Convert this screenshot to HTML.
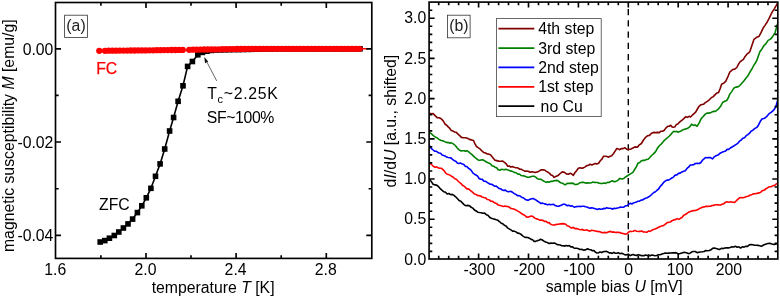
<!DOCTYPE html>
<html><head><meta charset="utf-8"><title>figure</title>
<style>html,body{margin:0;padding:0;background:#fff;}body{width:780px;height:297px;overflow:hidden;position:relative;font-family:"Liberation Sans",sans-serif;}</style>
</head><body>
<svg width="780" height="297" viewBox="0 0 780 297" style="position:absolute;left:0;top:0;will-change:transform" font-family="Liberation Sans, sans-serif" font-size="15.8px" fill="#000">
<rect width="780" height="297" fill="#fff"/>
<path d="M100.2,242.0 L104.8,240.6 L109.4,238.2 L114.3,235.5 L118.8,232.0 L123.4,228.0 L128.0,223.9 L132.6,219.1 L137.4,212.6 L141.8,205.8 L146.3,197.8 L150.9,188.3 L155.5,176.3 L160.1,163.9 L164.7,149.0 L169.6,131.0 L173.6,117.5 L178.1,101.3 L183.0,85.8 L187.6,66.4 L192.4,61.5 L197.8,54.8 L202.4,52.4 L207.0,51.2 L211.5,50.4 L216.0,50.0 L220.5,49.9 L225.0,49.8 L229.5,49.7 L234.0,49.6 L238.5,49.5 L243.0,49.5 L247.5,49.4 L252.0,49.3 L256.5,49.2 L261.0,49.1 L265.5,49.0 L270.0,48.9 L274.5,48.8 L279.0,48.8 L283.5,48.8 L288.0,48.8 L292.5,48.8 L297.0,48.8 L301.5,48.8 L306.0,48.8 L310.5,48.8 L315.0,48.8 L319.5,48.8 L324.0,48.8 L328.5,48.8 L333.0,48.8 L337.5,48.8 L342.0,48.8 L346.5,48.8 L351.0,48.8 L355.5,48.8 L360.0,48.8" fill="none" stroke="#000" stroke-width="1.6" stroke-linejoin="round"/>
<rect x="97.4" y="239.2" width="5.6" height="5.6" fill="#000"/>
<rect x="102.0" y="237.8" width="5.6" height="5.6" fill="#000"/>
<rect x="106.6" y="235.4" width="5.6" height="5.6" fill="#000"/>
<rect x="111.5" y="232.7" width="5.6" height="5.6" fill="#000"/>
<rect x="116.0" y="229.2" width="5.6" height="5.6" fill="#000"/>
<rect x="120.6" y="225.2" width="5.6" height="5.6" fill="#000"/>
<rect x="125.2" y="221.1" width="5.6" height="5.6" fill="#000"/>
<rect x="129.8" y="216.3" width="5.6" height="5.6" fill="#000"/>
<rect x="134.6" y="209.8" width="5.6" height="5.6" fill="#000"/>
<rect x="139.0" y="203.0" width="5.6" height="5.6" fill="#000"/>
<rect x="143.5" y="195.0" width="5.6" height="5.6" fill="#000"/>
<rect x="148.1" y="185.5" width="5.6" height="5.6" fill="#000"/>
<rect x="152.7" y="173.5" width="5.6" height="5.6" fill="#000"/>
<rect x="157.3" y="161.1" width="5.6" height="5.6" fill="#000"/>
<rect x="161.9" y="146.2" width="5.6" height="5.6" fill="#000"/>
<rect x="166.8" y="128.2" width="5.6" height="5.6" fill="#000"/>
<rect x="170.8" y="114.7" width="5.6" height="5.6" fill="#000"/>
<rect x="175.3" y="98.5" width="5.6" height="5.6" fill="#000"/>
<rect x="180.2" y="83.0" width="5.6" height="5.6" fill="#000"/>
<rect x="184.8" y="63.6" width="5.6" height="5.6" fill="#000"/>
<rect x="189.6" y="58.7" width="5.6" height="5.6" fill="#000"/>
<rect x="195.0" y="52.0" width="5.6" height="5.6" fill="#000"/>
<rect x="199.6" y="49.6" width="5.6" height="5.6" fill="#000"/>
<rect x="204.2" y="48.4" width="5.6" height="5.6" fill="#000"/>
<rect x="208.7" y="47.6" width="5.6" height="5.6" fill="#000"/>
<rect x="213.2" y="47.2" width="5.6" height="5.6" fill="#000"/>
<rect x="217.7" y="47.1" width="5.6" height="5.6" fill="#000"/>
<rect x="222.2" y="47.0" width="5.6" height="5.6" fill="#000"/>
<rect x="226.7" y="46.9" width="5.6" height="5.6" fill="#000"/>
<rect x="231.2" y="46.8" width="5.6" height="5.6" fill="#000"/>
<rect x="235.7" y="46.8" width="5.6" height="5.6" fill="#000"/>
<rect x="240.2" y="46.7" width="5.6" height="5.6" fill="#000"/>
<rect x="244.7" y="46.6" width="5.6" height="5.6" fill="#000"/>
<rect x="249.2" y="46.5" width="5.6" height="5.6" fill="#000"/>
<rect x="253.7" y="46.4" width="5.6" height="5.6" fill="#000"/>
<rect x="258.2" y="46.3" width="5.6" height="5.6" fill="#000"/>
<rect x="262.7" y="46.2" width="5.6" height="5.6" fill="#000"/>
<rect x="267.2" y="46.1" width="5.6" height="5.6" fill="#000"/>
<rect x="271.7" y="46.0" width="5.6" height="5.6" fill="#000"/>
<rect x="276.2" y="46.0" width="5.6" height="5.6" fill="#000"/>
<rect x="280.7" y="46.0" width="5.6" height="5.6" fill="#000"/>
<rect x="285.2" y="46.0" width="5.6" height="5.6" fill="#000"/>
<rect x="289.7" y="46.0" width="5.6" height="5.6" fill="#000"/>
<rect x="294.2" y="46.0" width="5.6" height="5.6" fill="#000"/>
<rect x="298.7" y="46.0" width="5.6" height="5.6" fill="#000"/>
<rect x="303.2" y="46.0" width="5.6" height="5.6" fill="#000"/>
<rect x="307.7" y="46.0" width="5.6" height="5.6" fill="#000"/>
<rect x="312.2" y="46.0" width="5.6" height="5.6" fill="#000"/>
<rect x="316.7" y="46.0" width="5.6" height="5.6" fill="#000"/>
<rect x="321.2" y="46.0" width="5.6" height="5.6" fill="#000"/>
<rect x="325.7" y="46.0" width="5.6" height="5.6" fill="#000"/>
<rect x="330.2" y="46.0" width="5.6" height="5.6" fill="#000"/>
<rect x="334.7" y="46.0" width="5.6" height="5.6" fill="#000"/>
<rect x="339.2" y="46.0" width="5.6" height="5.6" fill="#000"/>
<rect x="343.7" y="46.0" width="5.6" height="5.6" fill="#000"/>
<rect x="348.2" y="46.0" width="5.6" height="5.6" fill="#000"/>
<rect x="352.7" y="46.0" width="5.6" height="5.6" fill="#000"/>
<rect x="357.2" y="46.0" width="5.6" height="5.6" fill="#000"/>
<path d="M99.3,50.8 L105.0,50.8 L108.7,50.7 L112.4,50.7 L116.1,50.7 L119.8,50.6 L123.5,50.6 L127.2,50.6 L130.9,50.5 L134.6,50.5 L138.3,50.4 L142.0,50.4 L145.7,50.4 L149.4,50.3 L153.1,50.3 L156.8,50.2 L160.5,50.2 L164.2,50.1 L167.9,50.1 L171.6,50.0 L175.3,50.0 L179.0,49.9 L182.7,49.9 L189.2,49.8 L192.9,49.7 L196.6,49.7 L200.3,49.6 L204.0,49.5 L207.7,49.5 L211.4,49.4 L215.1,49.4 L218.8,49.3 L222.5,49.2 L226.2,49.2 L229.9,49.1 L233.6,49.1 L237.3,49.0 L241.0,48.9 L244.7,48.9 L248.4,48.8 L252.1,48.8 L255.8,48.8 L259.5,48.8 L263.2,48.8 L266.9,48.8 L270.6,48.8 L274.3,48.8 L278.0,48.8 L281.7,48.8 L285.4,48.8 L289.1,48.8 L292.8,48.8 L296.5,48.8 L300.2,48.8 L303.9,48.8 L307.6,48.8 L311.3,48.8 L315.0,48.8 L318.7,48.8 L322.4,48.8 L326.1,48.8 L329.8,48.8 L333.5,48.8 L337.2,48.8 L340.9,48.8 L344.6,48.8 L348.3,48.8 L352.0,48.8 L355.7,48.8 L359.4,48.8 L367.5,48.8" fill="none" stroke="#f00" stroke-width="1.4"/>
<circle cx="99.3" cy="50.8" r="3.15" fill="#f00"/>
<circle cx="105.0" cy="50.8" r="3.15" fill="#f00"/>
<circle cx="108.7" cy="50.7" r="3.15" fill="#f00"/>
<circle cx="112.4" cy="50.7" r="3.15" fill="#f00"/>
<circle cx="116.1" cy="50.7" r="3.15" fill="#f00"/>
<circle cx="119.8" cy="50.6" r="3.15" fill="#f00"/>
<circle cx="123.5" cy="50.6" r="3.15" fill="#f00"/>
<circle cx="127.2" cy="50.6" r="3.15" fill="#f00"/>
<circle cx="130.9" cy="50.5" r="3.15" fill="#f00"/>
<circle cx="134.6" cy="50.5" r="3.15" fill="#f00"/>
<circle cx="138.3" cy="50.4" r="3.15" fill="#f00"/>
<circle cx="142.0" cy="50.4" r="3.15" fill="#f00"/>
<circle cx="145.7" cy="50.4" r="3.15" fill="#f00"/>
<circle cx="149.4" cy="50.3" r="3.15" fill="#f00"/>
<circle cx="153.1" cy="50.3" r="3.15" fill="#f00"/>
<circle cx="156.8" cy="50.2" r="3.15" fill="#f00"/>
<circle cx="160.5" cy="50.2" r="3.15" fill="#f00"/>
<circle cx="164.2" cy="50.1" r="3.15" fill="#f00"/>
<circle cx="167.9" cy="50.1" r="3.15" fill="#f00"/>
<circle cx="171.6" cy="50.0" r="3.15" fill="#f00"/>
<circle cx="175.3" cy="50.0" r="3.15" fill="#f00"/>
<circle cx="179.0" cy="49.9" r="3.15" fill="#f00"/>
<circle cx="182.7" cy="49.9" r="3.15" fill="#f00"/>
<circle cx="189.2" cy="49.8" r="3.15" fill="#f00"/>
<circle cx="192.9" cy="49.7" r="3.15" fill="#f00"/>
<circle cx="196.6" cy="49.7" r="3.15" fill="#f00"/>
<circle cx="200.3" cy="49.6" r="3.15" fill="#f00"/>
<circle cx="204.0" cy="49.5" r="3.15" fill="#f00"/>
<circle cx="207.7" cy="49.5" r="3.15" fill="#f00"/>
<circle cx="211.4" cy="49.4" r="3.15" fill="#f00"/>
<circle cx="215.1" cy="49.4" r="3.15" fill="#f00"/>
<circle cx="218.8" cy="49.3" r="3.15" fill="#f00"/>
<circle cx="222.5" cy="49.2" r="3.15" fill="#f00"/>
<circle cx="226.2" cy="49.2" r="3.15" fill="#f00"/>
<circle cx="229.9" cy="49.1" r="3.15" fill="#f00"/>
<circle cx="233.6" cy="49.1" r="3.15" fill="#f00"/>
<circle cx="237.3" cy="49.0" r="3.15" fill="#f00"/>
<circle cx="241.0" cy="48.9" r="3.15" fill="#f00"/>
<circle cx="244.7" cy="48.9" r="3.15" fill="#f00"/>
<circle cx="248.4" cy="48.8" r="3.15" fill="#f00"/>
<circle cx="252.1" cy="48.8" r="3.15" fill="#f00"/>
<circle cx="255.8" cy="48.8" r="3.15" fill="#f00"/>
<circle cx="259.5" cy="48.8" r="3.15" fill="#f00"/>
<circle cx="263.2" cy="48.8" r="3.15" fill="#f00"/>
<circle cx="266.9" cy="48.8" r="3.15" fill="#f00"/>
<circle cx="270.6" cy="48.8" r="3.15" fill="#f00"/>
<circle cx="274.3" cy="48.8" r="3.15" fill="#f00"/>
<circle cx="278.0" cy="48.8" r="3.15" fill="#f00"/>
<circle cx="281.7" cy="48.8" r="3.15" fill="#f00"/>
<circle cx="285.4" cy="48.8" r="3.15" fill="#f00"/>
<circle cx="289.1" cy="48.8" r="3.15" fill="#f00"/>
<circle cx="292.8" cy="48.8" r="3.15" fill="#f00"/>
<circle cx="296.5" cy="48.8" r="3.15" fill="#f00"/>
<circle cx="300.2" cy="48.8" r="3.15" fill="#f00"/>
<circle cx="303.9" cy="48.8" r="3.15" fill="#f00"/>
<circle cx="307.6" cy="48.8" r="3.15" fill="#f00"/>
<circle cx="311.3" cy="48.8" r="3.15" fill="#f00"/>
<circle cx="315.0" cy="48.8" r="3.15" fill="#f00"/>
<circle cx="318.7" cy="48.8" r="3.15" fill="#f00"/>
<circle cx="322.4" cy="48.8" r="3.15" fill="#f00"/>
<circle cx="326.1" cy="48.8" r="3.15" fill="#f00"/>
<circle cx="329.8" cy="48.8" r="3.15" fill="#f00"/>
<circle cx="333.5" cy="48.8" r="3.15" fill="#f00"/>
<circle cx="337.2" cy="48.8" r="3.15" fill="#f00"/>
<circle cx="340.9" cy="48.8" r="3.15" fill="#f00"/>
<circle cx="344.6" cy="48.8" r="3.15" fill="#f00"/>
<circle cx="348.3" cy="48.8" r="3.15" fill="#f00"/>
<circle cx="352.0" cy="48.8" r="3.15" fill="#f00"/>
<circle cx="355.7" cy="48.8" r="3.15" fill="#f00"/>
<circle cx="359.4" cy="48.8" r="3.15" fill="#f00"/>
<rect x="55.5" y="2.5" width="316.3" height="255.9" fill="none" stroke="#000" stroke-width="1.65"/>
<path d="M146.0,258.4v-5.5M146.0,2.5v5.5M236.1,258.4v-5.5M236.1,2.5v5.5M326.3,258.4v-5.5M326.3,2.5v5.5M100.9,258.4v-3.2M100.9,2.5v3.2M191.0,258.4v-3.2M191.0,2.5v3.2M281.2,258.4v-3.2M281.2,2.5v3.2M55.5,48.8h5.5M371.8,48.8h-5.5M55.5,142.0h5.5M371.8,142.0h-5.5M55.5,235.3h5.5M371.8,235.3h-5.5M55.5,95.4h3.2M371.8,95.4h-3.2M55.5,188.7h3.2M371.8,188.7h-3.2" fill="none" stroke="#000" stroke-width="1.65"/>
<text x="55.3" y="274.6" text-anchor="middle" font-size="15.8px">1.6</text>
<text x="145.5" y="274.6" text-anchor="middle" font-size="15.8px">2.0</text>
<text x="235.6" y="274.6" text-anchor="middle" font-size="15.8px">2.4</text>
<text x="325.8" y="274.6" text-anchor="middle" font-size="15.8px">2.8</text>
<text x="53.4" y="54.6" text-anchor="end" font-size="15.8px">0.00</text>
<text x="53.4" y="147.8" text-anchor="end" font-size="15.8px">-0.02</text>
<text x="53.4" y="241.1" text-anchor="end" font-size="15.8px">-0.04</text>
<text x="213.1" y="292.5" text-anchor="middle">temperature <tspan font-style="italic">T</tspan> [K]</text>
<text transform="translate(13.6,135.7) rotate(-90)" text-anchor="middle">magnetic susceptibility <tspan font-style="italic">M</tspan> [emu/g]</text>
<rect x="64.6" y="15.2" width="22.9" height="22.3" fill="#fff" stroke="#333" stroke-width="0.8"/>
<text x="76" y="31.4" text-anchor="middle" fill="#222">(a)</text>
<text x="96.2" y="74.1" fill="#f00" stroke="#f00" stroke-width="0.25">FC</text>
<text x="99" y="210.3" fill="#000">ZFC</text>
<text x="207.2" y="99.2" textLength="70.6" lengthAdjust="spacing">T<tspan font-size="11px" dy="3.5">c</tspan><tspan dy="-3.5">~2.25K</tspan></text>
<text x="206.8" y="122.5" textLength="67.6" lengthAdjust="spacing">SF~100%</text>
<path d="M216.7,80.9 L205.2,58.8" stroke="#222" stroke-width="0.7" fill="none"/>
<path d="M204.3,57.0 L208.2,61.6 L205.0,63.2 Z" fill="#111"/>
<path d="M628.3,8.9 V259.0" stroke="#000" stroke-width="1.4" stroke-dasharray="6.3,4.97" fill="none"/>
<clipPath id="cb"><rect x="429.1" y="2.1" width="348.7" height="256.9"/></clipPath>
<g clip-path="url(#cb)" fill="none" stroke-width="1.6" stroke-linejoin="round" stroke-linecap="round">
<path d="M429.4,179.3 L431.2,181.4 L433.1,184.3 L435.1,184.9 L437.1,185.4 L438.8,186.9 L440.5,188.9 L442.2,190.4 L443.9,191.8 L445.5,192.2 L447.2,194.0 L448.9,193.5 L450.6,194.7 L452.3,194.4 L454.0,195.4 L455.6,196.8 L457.3,198.5 L459.1,200.5 L460.8,201.2 L462.6,203.1 L464.4,205.0 L466.1,205.7 L467.7,205.4 L469.4,205.7 L471.1,207.3 L472.8,208.1 L474.5,210.0 L476.2,211.0 L477.8,212.2 L479.5,212.5 L481.2,212.7 L482.9,213.2 L484.6,213.1 L486.3,214.7 L487.9,215.2 L489.6,217.2 L491.3,218.2 L493.0,218.7 L494.7,219.2 L496.4,219.8 L498.0,220.3 L499.7,221.8 L501.2,223.3 L502.8,223.8 L504.3,225.2 L505.8,225.9 L507.5,227.8 L509.2,228.9 L510.9,229.9 L512.6,231.2 L514.2,231.1 L515.9,231.9 L517.6,233.1 L519.3,233.4 L521.0,234.3 L522.7,235.9 L524.3,236.9 L526.0,237.4 L527.7,237.5 L529.4,238.2 L531.1,239.4 L532.6,239.7 L534.2,241.4 L535.7,241.4 L537.3,240.6 L539.0,240.2 L540.6,239.3 L542.3,240.0 L544.0,241.2 L545.7,242.0 L547.4,242.6 L549.1,243.5 L550.8,243.1 L552.4,243.3 L554.1,243.0 L555.6,243.6 L557.2,244.6 L558.7,244.8 L560.2,245.0 L561.7,245.7 L563.2,245.7 L564.8,246.1 L566.3,245.5 L567.8,246.0 L569.3,245.6 L570.8,246.9 L572.3,246.7 L573.8,247.9 L575.3,248.3 L576.9,248.3 L578.4,248.7 L580.1,249.5 L581.7,249.2 L583.4,250.1 L585.5,249.9 L587.5,248.7 L589.2,249.5 L590.8,249.7 L592.5,250.7 L594.0,250.6 L595.5,252.2 L597.1,253.0 L598.6,252.8 L600.1,251.9 L601.6,252.6 L603.1,251.7 L604.6,251.5 L606.1,251.3 L607.7,251.9 L609.2,252.9 L610.7,252.8 L612.2,253.4 L613.8,252.4 L615.3,253.3 L616.8,253.2 L618.3,252.7 L619.8,253.7 L621.3,253.3 L622.8,253.6 L624.3,254.4 L625.8,254.9 L627.4,254.5 L628.9,254.8 L630.4,255.6 L631.9,254.7 L633.4,254.5 L634.9,255.2 L636.4,255.4 L638.0,254.7 L639.5,255.1 L641.0,255.6 L642.5,255.5 L644.0,255.8 L645.6,255.1 L647.1,255.6 L648.6,254.9 L650.1,255.9 L651.6,255.0 L653.1,255.2 L654.9,255.7 L656.7,255.5 L658.4,254.7 L660.2,254.7 L661.9,254.1 L663.7,253.6 L665.4,253.0 L667.2,253.2 L668.9,253.1 L670.7,253.0 L672.4,252.9 L674.2,252.9 L675.9,252.6 L678.0,253.7 L680.0,253.6 L682.1,252.9 L684.2,252.2 L686.3,252.8 L688.4,253.6 L690.1,253.2 L691.9,251.8 L693.6,251.5 L695.3,251.5 L697.1,252.6 L698.8,252.2 L700.6,252.0 L702.3,251.8 L704.1,251.5 L705.8,250.5 L707.6,250.7 L709.3,250.5 L711.0,249.8 L712.8,248.2 L714.5,248.0 L716.2,248.6 L718.0,249.1 L719.7,249.4 L721.4,248.3 L723.2,248.6 L724.9,248.0 L726.7,247.8 L728.4,247.9 L730.2,247.4 L731.9,246.8 L733.7,247.0 L735.4,246.3 L737.1,247.2 L738.9,246.8 L740.6,248.0 L742.3,246.8 L744.1,247.1 L745.8,246.3 L747.5,246.4 L749.3,244.8 L751.0,244.6 L752.8,244.8 L754.5,245.2 L756.3,245.3 L758.0,245.4 L759.8,245.8 L761.5,246.3 L763.5,245.0 L765.6,244.2 L767.7,243.5 L769.8,243.2 L771.9,244.0 L774.0,244.6 L775.8,243.9 L777.6,243.8" stroke="#000"/>
<path d="M429.4,163.1 L431.3,164.3 L433.2,166.2 L435.1,167.2 L436.6,166.8 L438.1,167.8 L439.7,168.3 L441.2,168.2 L442.7,169.4 L444.2,170.8 L445.7,173.1 L447.2,174.2 L448.7,174.6 L450.2,175.3 L451.8,176.4 L453.3,177.3 L454.8,178.8 L456.3,179.2 L457.8,180.8 L459.3,182.3 L460.8,183.3 L462.4,185.3 L463.9,186.0 L465.4,187.4 L466.9,188.9 L468.4,188.9 L470.0,190.2 L471.5,191.4 L473.0,192.6 L474.5,194.0 L476.0,194.4 L477.5,195.5 L479.0,195.6 L480.6,196.0 L482.1,197.0 L483.6,197.5 L485.5,197.8 L487.3,199.5 L489.2,199.8 L491.0,201.3 L492.7,201.4 L494.5,202.8 L496.4,203.4 L498.3,205.1 L500.2,205.6 L501.8,206.0 L503.3,206.4 L504.8,206.0 L506.4,206.4 L507.9,206.5 L509.5,207.3 L511.1,208.5 L512.6,208.7 L514.4,209.2 L516.1,210.1 L517.9,211.1 L519.6,212.1 L521.3,213.3 L523.0,214.5 L524.7,215.3 L526.3,216.9 L528.0,217.2 L529.7,216.5 L531.4,216.1 L533.1,216.6 L534.8,218.1 L536.4,218.9 L538.1,219.2 L539.8,220.3 L541.5,220.1 L543.0,220.4 L544.6,221.5 L546.1,221.3 L547.6,222.7 L549.1,222.6 L550.6,224.2 L552.1,224.7 L553.6,225.1 L555.2,224.7 L556.7,224.4 L558.2,224.3 L559.7,223.9 L561.2,223.9 L562.7,223.6 L564.2,223.9 L565.7,224.2 L567.2,225.8 L568.8,226.2 L570.3,227.4 L571.8,228.1 L573.3,227.3 L574.9,228.7 L576.4,228.4 L577.9,228.9 L579.4,229.5 L580.9,229.7 L582.4,229.4 L583.9,230.3 L585.5,230.2 L587.0,229.8 L588.5,230.8 L590.0,231.1 L591.5,230.3 L593.0,230.5 L594.5,230.8 L596.0,231.3 L597.5,231.4 L599.1,231.6 L600.6,232.0 L602.1,232.8 L603.7,232.6 L605.2,232.4 L606.7,232.8 L608.7,231.8 L610.7,231.4 L612.2,232.2 L613.8,231.9 L615.3,232.5 L616.8,232.4 L618.3,232.4 L619.8,232.5 L621.3,233.2 L622.8,233.4 L624.8,234.1 L626.9,234.0 L628.4,232.2 L629.9,231.4 L631.6,231.5 L633.2,231.3 L634.9,230.4 L636.6,231.2 L638.3,231.5 L640.0,231.4 L641.7,230.9 L643.4,232.0 L645.1,232.0 L646.8,232.3 L648.4,231.0 L650.1,231.4 L651.8,230.3 L653.4,229.5 L655.1,229.0 L656.8,228.2 L658.5,227.3 L660.2,226.6 L661.7,225.9 L663.3,225.7 L664.8,224.7 L666.6,223.1 L668.5,222.3 L670.3,222.0 L672.0,220.7 L673.8,219.9 L675.5,219.6 L677.1,218.6 L678.8,219.4 L680.4,218.3 L682.0,217.5 L683.7,215.2 L685.3,214.5 L687.0,213.5 L688.6,212.2 L690.3,211.5 L692.0,210.9 L693.7,210.6 L695.4,210.5 L696.9,210.0 L698.4,209.3 L699.9,208.3 L701.4,207.8 L702.9,207.0 L704.5,206.9 L706.0,206.2 L707.5,206.4 L709.0,206.2 L710.5,206.2 L712.0,205.5 L713.5,205.4 L715.3,204.7 L717.0,204.7 L718.8,204.9 L720.6,205.0 L722.1,204.3 L723.7,203.8 L725.2,202.4 L726.7,201.8 L728.7,202.2 L730.7,201.8 L732.7,202.3 L734.7,202.4 L736.4,200.7 L738.1,199.1 L739.8,197.7 L741.5,197.6 L743.1,197.7 L744.8,197.3 L746.5,196.5 L748.2,196.2 L749.9,195.3 L751.6,194.7 L753.2,193.9 L754.9,193.7 L757.0,193.4 L759.0,192.9 L760.7,192.3 L762.3,190.6 L764.0,190.3 L765.7,189.0 L767.4,187.9 L769.1,186.8 L771.1,186.7 L773.1,185.6 L774.6,185.5 L776.1,184.1 L777.6,183.6" stroke="#f00"/>
<path d="M429.4,145.5 L431.2,148.3 L433.1,150.0 L434.6,151.2 L436.1,151.2 L437.6,152.2 L439.1,153.0 L440.6,153.2 L442.1,155.0 L443.7,155.6 L445.2,156.1 L446.7,157.1 L448.2,157.5 L449.8,157.8 L451.3,158.1 L452.8,159.7 L454.3,160.7 L455.8,161.3 L457.3,163.1 L459.0,163.6 L460.7,163.1 L462.4,164.1 L463.9,164.6 L465.4,166.5 L466.9,166.5 L468.4,168.2 L469.9,169.1 L471.4,170.6 L473.0,173.2 L474.5,174.2 L476.0,175.0 L477.6,176.1 L479.1,178.5 L480.6,179.3 L482.3,179.4 L483.9,181.1 L485.6,181.3 L487.1,182.3 L488.6,183.3 L490.2,184.2 L491.7,184.3 L493.2,185.2 L494.7,186.3 L496.2,186.0 L497.7,187.4 L499.2,188.5 L500.8,188.9 L502.3,190.0 L503.8,190.4 L505.3,190.1 L506.8,191.2 L508.3,191.8 L509.8,191.4 L511.3,191.5 L512.9,192.7 L514.4,193.7 L515.9,194.4 L517.4,195.6 L519.0,195.6 L520.5,196.3 L522.0,197.5 L523.7,198.0 L525.3,199.4 L527.0,200.1 L528.5,200.1 L530.0,199.2 L531.6,198.7 L533.1,198.5 L534.8,199.4 L536.4,200.3 L538.1,201.5 L539.5,202.4 L541.0,203.5 L542.7,203.1 L544.4,203.9 L546.1,204.1 L547.6,204.9 L549.1,204.2 L550.6,204.7 L552.1,204.5 L553.6,204.4 L555.2,205.6 L556.7,206.1 L558.2,206.2 L559.7,205.9 L561.2,205.2 L562.7,204.6 L564.2,204.1 L565.7,204.8 L567.2,205.7 L568.8,205.2 L570.3,206.2 L571.8,205.7 L573.3,206.7 L574.9,207.1 L576.4,206.6 L577.9,206.5 L579.4,206.3 L580.9,206.6 L582.4,206.2 L583.9,206.2 L585.5,206.7 L587.0,207.0 L588.5,207.8 L590.0,208.1 L591.5,207.9 L593.0,208.0 L594.5,208.6 L596.0,209.0 L597.5,209.5 L599.1,208.8 L600.6,209.2 L602.1,209.1 L603.7,208.4 L605.2,208.6 L606.7,207.8 L608.2,208.3 L609.7,208.2 L611.2,208.5 L612.7,209.2 L614.2,208.2 L615.8,208.5 L617.3,208.0 L618.8,207.8 L620.5,207.1 L622.1,207.2 L623.8,207.2 L625.5,205.9 L627.2,205.5 L628.9,204.1 L630.4,203.2 L631.9,204.0 L633.4,202.9 L634.9,202.5 L636.4,202.0 L638.0,201.3 L639.5,201.2 L641.0,200.1 L642.5,200.0 L644.0,199.0 L645.6,198.3 L647.1,197.7 L648.8,196.8 L650.4,195.7 L652.1,194.0 L653.8,192.5 L655.5,191.7 L657.2,190.0 L658.6,189.0 L660.0,186.8 L661.7,184.9 L663.4,182.7 L665.1,181.2 L666.8,180.1 L668.4,180.1 L670.1,179.1 L671.8,178.0 L673.5,177.1 L675.2,175.1 L676.9,174.9 L678.5,173.4 L680.2,173.1 L681.9,171.9 L683.6,171.2 L685.3,170.7 L687.0,168.4 L688.6,167.2 L690.3,165.0 L692.0,165.0 L693.7,164.6 L695.4,163.5 L697.4,163.2 L699.4,163.5 L700.9,162.5 L702.5,160.2 L704.0,158.9 L705.5,157.5 L707.0,157.8 L708.5,157.5 L710.5,157.6 L712.5,158.9 L714.5,156.6 L716.6,155.5 L718.1,155.1 L719.6,153.5 L721.1,152.7 L722.6,152.0 L724.1,151.5 L725.7,150.9 L727.2,149.4 L728.7,149.4 L730.4,148.0 L732.0,147.0 L733.7,146.0 L735.8,144.6 L737.8,143.3 L739.5,141.2 L741.1,140.1 L742.8,138.3 L744.5,137.7 L746.2,135.7 L747.9,134.6 L749.6,133.2 L751.2,131.1 L752.9,130.2 L755.0,128.4 L757.0,127.2 L758.7,124.7 L760.3,121.3 L762.0,119.1 L763.7,118.6 L765.4,117.7 L767.1,116.1 L769.1,113.7 L771.1,112.4 L773.4,110.4 L774.8,108.6 L776.2,105.5 L777.6,100.5" stroke="#00f"/>
<path d="M429.4,132.4 L431.2,133.7 L433.1,135.4 L435.1,137.0 L437.1,137.8 L439.1,139.5 L441.2,140.5 L443.2,140.9 L445.2,141.9 L446.7,142.4 L448.2,142.6 L449.8,143.1 L451.3,142.9 L453.3,143.9 L455.3,145.5 L457.3,148.1 L459.3,150.0 L460.8,150.9 L462.4,150.8 L463.9,150.8 L465.4,151.1 L466.9,150.8 L468.4,151.6 L470.1,153.1 L471.8,154.4 L473.5,156.1 L475.2,157.7 L476.8,159.0 L478.5,160.1 L480.2,160.2 L481.9,159.7 L483.6,160.1 L485.3,161.3 L486.9,162.3 L488.6,163.1 L490.3,163.7 L492.0,165.7 L493.7,166.2 L495.2,167.4 L496.7,167.7 L498.2,169.8 L499.7,170.2 L501.2,169.4 L502.8,169.5 L504.3,169.8 L505.8,169.2 L507.3,169.8 L508.9,170.3 L510.4,170.9 L511.9,171.2 L513.4,171.9 L514.9,172.4 L516.4,173.0 L517.9,174.2 L519.4,174.0 L521.0,175.4 L522.5,175.8 L524.0,175.9 L525.7,176.4 L527.3,177.2 L529.0,177.3 L530.7,176.8 L532.4,176.3 L534.1,176.3 L535.8,177.1 L537.4,178.8 L539.1,179.3 L541.2,179.4 L543.2,180.8 L544.7,181.6 L546.1,182.4 L547.6,181.8 L549.1,182.3 L550.6,181.4 L552.1,181.4 L553.8,180.8 L555.5,180.6 L557.2,180.4 L559.0,181.5 L560.7,182.8 L562.5,183.2 L564.2,184.4 L565.7,184.6 L567.2,183.4 L568.8,183.3 L570.3,183.4 L571.8,183.1 L573.3,183.4 L574.9,184.5 L576.4,184.4 L577.9,184.2 L579.4,183.0 L580.9,182.5 L582.4,182.4 L583.9,182.4 L585.5,182.9 L587.0,183.1 L588.5,182.8 L590.0,183.0 L591.5,182.7 L593.0,182.0 L594.5,182.4 L596.0,182.5 L597.5,182.5 L599.1,183.2 L600.6,183.4 L602.3,183.5 L604.0,183.0 L605.7,183.4 L607.4,182.4 L609.0,182.5 L610.7,181.4 L612.4,180.7 L614.1,181.8 L615.8,181.4 L617.8,180.4 L619.8,178.4 L621.8,179.0 L623.8,178.4 L625.5,177.0 L627.2,176.0 L628.9,174.7 L630.9,173.6 L632.9,172.3 L634.6,169.5 L636.3,166.9 L638.0,163.2 L639.7,162.5 L641.3,160.9 L643.0,160.2 L644.7,160.4 L646.4,159.5 L648.1,159.2 L649.8,157.5 L651.5,155.5 L653.5,153.9 L655.6,151.6 L657.6,147.9 L659.6,145.5 L661.2,144.1 L662.8,142.3 L664.4,140.3 L666.1,138.9 L667.7,137.5 L669.4,136.0 L670.9,134.4 L672.4,132.4 L673.9,131.3 L675.3,131.7 L676.8,131.3 L678.2,132.3 L679.8,131.4 L681.4,130.8 L683.0,129.7 L684.5,129.2 L686.1,128.9 L687.6,128.3 L689.6,126.9 L691.6,124.2 L693.5,125.4 L695.3,125.0 L697.2,126.2 L699.2,122.8 L701.2,118.6 L703.2,116.5 L705.3,114.1 L707.0,113.1 L708.6,113.1 L710.3,112.9 L712.0,112.0 L713.7,111.3 L715.4,111.4 L717.0,110.2 L718.6,108.8 L720.6,106.3 L722.6,102.5 L724.7,101.3 L726.7,100.5 L728.2,98.0 L729.7,94.4 L731.7,91.6 L733.7,88.3 L735.8,87.1 L737.8,86.9 L739.8,85.6 L741.8,83.3 L743.8,80.9 L745.9,78.2 L747.9,75.8 L749.9,72.2 L751.9,69.0 L753.9,65.1 L755.5,62.8 L757.0,59.9 L758.5,55.5 L760.0,51.5 L762.0,48.9 L764.0,45.5 L766.0,43.6 L768.1,40.4 L770.1,39.4 L772.1,37.4 L773.7,34.8 L775.2,32.3 L777.4,24.2" stroke="#008000"/>
<path d="M429.4,113.2 L431.2,113.8 L433.1,113.6 L435.1,115.6 L437.1,117.6 L439.1,117.7 L441.2,118.8 L443.2,120.9 L445.2,124.3 L446.7,125.2 L448.2,126.9 L449.8,128.4 L451.3,130.4 L453.0,131.1 L454.6,132.0 L456.3,132.4 L458.0,134.1 L459.7,135.6 L461.4,137.4 L463.4,137.8 L465.4,137.8 L467.4,138.3 L469.4,139.4 L471.4,139.9 L473.5,140.5 L475.0,143.9 L476.5,146.5 L478.2,147.7 L479.9,148.8 L481.6,150.6 L483.6,152.4 L485.6,153.0 L487.3,154.0 L489.0,154.1 L490.7,155.0 L492.7,157.4 L494.7,160.1 L496.7,160.6 L498.7,161.1 L500.8,161.2 L502.8,161.1 L504.5,162.4 L506.1,163.8 L507.8,166.2 L509.3,166.0 L510.9,167.1 L512.4,166.5 L513.9,167.2 L515.4,167.6 L516.9,167.8 L518.4,168.3 L519.9,169.2 L521.6,169.4 L523.3,170.4 L525.0,171.2 L526.7,171.1 L528.3,171.2 L530.0,172.2 L531.7,171.8 L533.4,172.0 L535.1,172.6 L537.1,171.9 L539.1,171.2 L541.0,169.9 L543.0,169.9 L544.7,170.0 L546.4,171.4 L548.1,172.3 L549.6,173.4 L551.1,175.1 L552.6,175.5 L554.1,177.4 L556.2,176.3 L558.2,175.4 L560.2,173.5 L562.2,171.9 L564.2,172.2 L566.3,173.9 L568.3,174.3 L570.3,173.3 L571.8,174.0 L573.3,175.4 L575.0,172.5 L576.7,170.6 L578.4,168.3 L580.1,167.7 L581.7,168.2 L583.4,167.9 L585.1,166.8 L586.8,165.6 L588.5,165.3 L590.2,164.3 L591.8,164.9 L593.5,164.2 L595.2,163.6 L596.9,163.9 L598.6,163.2 L600.3,160.8 L601.9,159.1 L603.6,156.2 L605.3,156.3 L607.0,156.5 L608.7,157.2 L610.2,156.2 L611.7,155.8 L613.4,153.8 L615.1,151.1 L616.8,148.5 L618.3,148.9 L619.8,149.7 L621.5,148.5 L623.1,148.6 L624.8,147.7 L626.8,149.3 L628.9,149.6 L630.9,149.0 L632.9,148.1 L634.4,147.1 L635.9,146.9 L637.4,147.3 L639.4,144.8 L641.4,143.5 L643.5,140.0 L645.5,137.4 L647.5,135.8 L649.5,135.4 L651.5,133.3 L653.5,132.4 L655.5,132.6 L657.6,132.4 L659.3,132.6 L660.9,131.2 L662.6,131.3 L664.3,130.3 L666.0,127.9 L667.7,126.3 L669.2,126.2 L670.7,125.3 L672.1,126.9 L673.5,127.3 L674.9,126.8 L676.4,124.4 L677.8,124.0 L679.8,121.9 L681.8,120.3 L683.8,118.6 L685.9,116.6 L687.5,117.4 L689.0,116.3 L690.6,117.0 L692.6,114.8 L694.6,113.2 L696.0,111.6 L697.4,109.0 L698.9,106.5 L700.4,105.1 L701.9,104.5 L703.4,104.3 L705.3,102.6 L707.3,101.3 L709.3,99.8 L711.3,97.7 L713.3,96.6 L715.4,94.4 L717.0,92.9 L718.6,92.4 L720.1,88.7 L721.6,84.3 L723.7,83.1 L725.7,81.3 L727.7,77.2 L729.7,72.2 L731.2,70.9 L732.7,69.5 L734.8,69.1 L736.8,67.5 L738.3,64.6 L739.8,62.1 L741.6,60.6 L743.4,59.3 L745.1,56.4 L746.9,54.2 L748.4,53.2 L749.9,51.5 L751.9,45.4 L753.9,39.4 L755.6,38.1 L757.3,36.9 L759.0,36.4 L761.0,32.7 L763.0,28.3 L765.0,25.4 L767.1,22.2 L769.1,18.4 L771.1,14.1 L772.6,11.4 L774.1,9.1 L775.9,6.1 L777.6,3.2" stroke="#800000"/>
</g>
<rect x="429.1" y="2.1" width="348.7" height="256.9" fill="none" stroke="#000" stroke-width="1.65"/>
<path d="M478.6,259.0v-5.5M478.6,2.1v5.5M528.5,259.0v-5.5M528.5,2.1v5.5M578.4,259.0v-5.5M578.4,2.1v5.5M628.3,259.0v-5.5M628.3,2.1v5.5M678.2,259.0v-5.5M678.2,2.1v5.5M728.1,259.0v-5.5M728.1,2.1v5.5M438.7,259.0v-3.2M438.7,2.1v3.2M448.7,259.0v-3.2M448.7,2.1v3.2M458.6,259.0v-3.2M458.6,2.1v3.2M468.6,259.0v-3.2M468.6,2.1v3.2M488.6,259.0v-3.2M488.6,2.1v3.2M498.6,259.0v-3.2M498.6,2.1v3.2M508.5,259.0v-3.2M508.5,2.1v3.2M518.5,259.0v-3.2M518.5,2.1v3.2M538.5,259.0v-3.2M538.5,2.1v3.2M548.5,259.0v-3.2M548.5,2.1v3.2M558.4,259.0v-3.2M558.4,2.1v3.2M568.4,259.0v-3.2M568.4,2.1v3.2M588.4,259.0v-3.2M588.4,2.1v3.2M598.4,259.0v-3.2M598.4,2.1v3.2M608.3,259.0v-3.2M608.3,2.1v3.2M618.3,259.0v-3.2M618.3,2.1v3.2M638.3,259.0v-3.2M638.3,2.1v3.2M648.3,259.0v-3.2M648.3,2.1v3.2M658.2,259.0v-3.2M658.2,2.1v3.2M668.2,259.0v-3.2M668.2,2.1v3.2M688.2,259.0v-3.2M688.2,2.1v3.2M698.2,259.0v-3.2M698.2,2.1v3.2M708.1,259.0v-3.2M708.1,2.1v3.2M718.1,259.0v-3.2M718.1,2.1v3.2M738.1,259.0v-3.2M738.1,2.1v3.2M748.1,259.0v-3.2M748.1,2.1v3.2M758.0,259.0v-3.2M758.0,2.1v3.2M768.0,259.0v-3.2M768.0,2.1v3.2M429.1,219.2h5.5M777.8,219.2h-5.5M429.1,179.0h5.5M777.8,179.0h-5.5M429.1,138.8h5.5M777.8,138.8h-5.5M429.1,98.6h5.5M777.8,98.6h-5.5M429.1,58.4h5.5M777.8,58.4h-5.5M429.1,18.2h5.5M777.8,18.2h-5.5M429.1,251.4h3.2M777.8,251.4h-3.2M429.1,243.3h3.2M777.8,243.3h-3.2M429.1,235.3h3.2M777.8,235.3h-3.2M429.1,227.2h3.2M777.8,227.2h-3.2M429.1,211.2h3.2M777.8,211.2h-3.2M429.1,203.1h3.2M777.8,203.1h-3.2M429.1,195.1h3.2M777.8,195.1h-3.2M429.1,187.0h3.2M777.8,187.0h-3.2M429.1,171.0h3.2M777.8,171.0h-3.2M429.1,162.9h3.2M777.8,162.9h-3.2M429.1,154.9h3.2M777.8,154.9h-3.2M429.1,146.8h3.2M777.8,146.8h-3.2M429.1,130.8h3.2M777.8,130.8h-3.2M429.1,122.7h3.2M777.8,122.7h-3.2M429.1,114.7h3.2M777.8,114.7h-3.2M429.1,106.6h3.2M777.8,106.6h-3.2M429.1,90.6h3.2M777.8,90.6h-3.2M429.1,82.5h3.2M777.8,82.5h-3.2M429.1,74.5h3.2M777.8,74.5h-3.2M429.1,66.4h3.2M777.8,66.4h-3.2M429.1,50.4h3.2M777.8,50.4h-3.2M429.1,42.3h3.2M777.8,42.3h-3.2M429.1,34.3h3.2M777.8,34.3h-3.2M429.1,26.2h3.2M777.8,26.2h-3.2M429.1,10.2h3.2M777.8,10.2h-3.2" fill="none" stroke="#000" stroke-width="1.65"/>
<text x="479.4" y="275.4" text-anchor="middle" font-size="15.8px">-300</text>
<text x="529.3" y="275.4" text-anchor="middle" font-size="15.8px">-200</text>
<text x="579.2" y="275.4" text-anchor="middle" font-size="15.8px">-100</text>
<text x="628.6" y="275.4" text-anchor="middle" font-size="15.8px">0</text>
<text x="680.0" y="275.4" text-anchor="middle" font-size="15.8px">100</text>
<text x="728.9" y="275.4" text-anchor="middle" font-size="15.8px">200</text>
<text x="426.2" y="264.5" text-anchor="end" font-size="15.8px">0.0</text>
<text x="426.2" y="224.3" text-anchor="end" font-size="15.8px">0.5</text>
<text x="426.2" y="184.1" text-anchor="end" font-size="15.8px">1.0</text>
<text x="426.2" y="143.9" text-anchor="end" font-size="15.8px">1.5</text>
<text x="426.2" y="103.7" text-anchor="end" font-size="15.8px">2.0</text>
<text x="426.2" y="63.5" text-anchor="end" font-size="15.8px">2.5</text>
<text x="426.2" y="23.3" text-anchor="end" font-size="15.8px">3.0</text>
<text x="614.2" y="292.2" text-anchor="middle">sample bias <tspan font-style="italic">U</tspan> [mV]</text>
<text transform="translate(395.8,121.1) rotate(-90)" text-anchor="middle">d<tspan font-style="italic">I</tspan>/d<tspan font-style="italic">U</tspan> [a.u., shifted]</text>
<rect x="447.4" y="15.2" width="22.7" height="22.6" fill="#fff" stroke="#333" stroke-width="0.8"/>
<text x="458.8" y="31.4" text-anchor="middle" fill="#222">(b)</text>
<rect x="496.4" y="18.6" width="104.8" height="98.0" fill="#fff" stroke="#444" stroke-width="0.8"/>
<path d="M498.4,28.6H534.3" stroke="#800000" stroke-width="1.75"/>
<text x="538.2" y="34.2">4th step</text>
<path d="M498.4,48.0H534.3" stroke="#008000" stroke-width="1.75"/>
<text x="538.2" y="53.6">3rd step</text>
<path d="M498.4,67.4H534.3" stroke="#00f" stroke-width="1.75"/>
<text x="538.2" y="73.0">2nd step</text>
<path d="M498.4,86.8H534.3" stroke="#f00" stroke-width="1.75"/>
<text x="538.2" y="92.4">1st step</text>
<path d="M498.4,106.2H534.3" stroke="#000" stroke-width="1.75"/>
<text x="540.6" y="111.8">no Cu</text>
</svg>
</body></html>
